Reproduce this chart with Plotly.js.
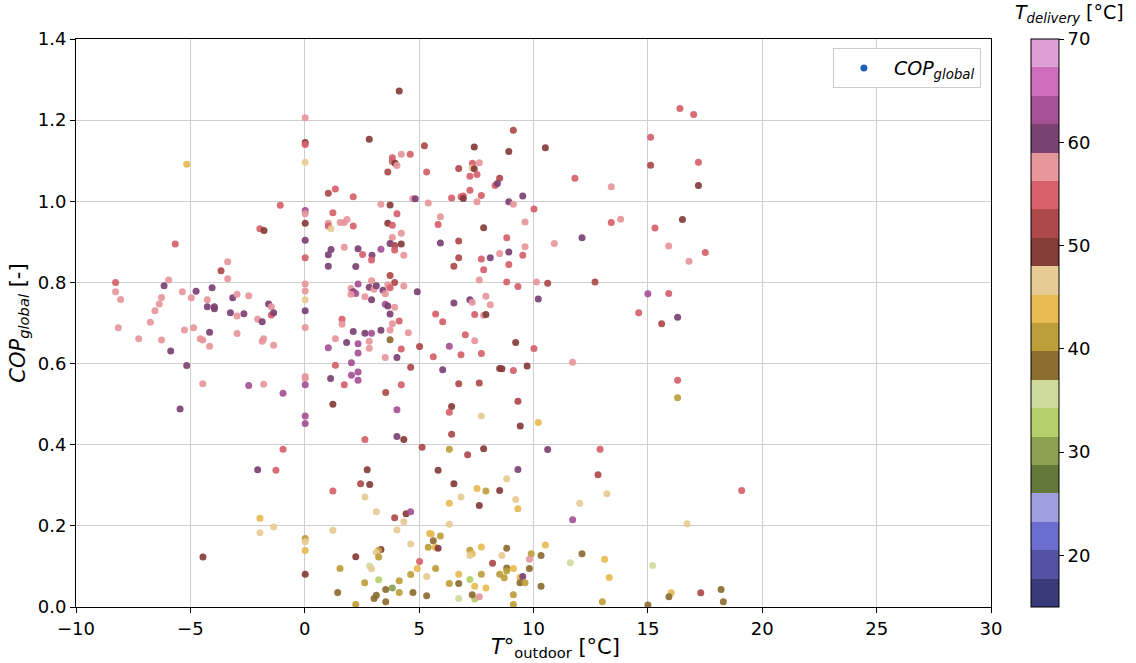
<!DOCTYPE html>
<html>
<head>
<meta charset="utf-8">
<script src="https://cdn.plot.ly/plotly-3.0.1.min.js"></script>
<style>html,body{margin:0;padding:0;background:#fff;}#chart{width:1136px;height:663px;}</style>
</head>
<body>
<div id="chart"></div>
<script>
// Outdoor temperature [°C]
const tOutdoor = [
-5.16,-5.66,-1.96,-1.78,
4.13,0.02,2.82,5.23,0.02,0.02,0.02,3.83,4.22,4.61,3.83,3.95,4.03,3.63,5.33,1.03,1.34,2.12,-1.07,0.02,0.02,0.02,0.02,0.02,3.33,3.73,4.03,4.72,4.83,5.40,1.23,1.03,1.03,1.55,1.73,1.85,2.12,1.15,3.63,3.83,4.22,3.83,3.73,3.93,4.22,3.93,4.33,1.73,1.15,1.03,2.33,2.53,2.94,3.33,2.92,
9.12,7.41,8.92,10.52,7.33,7.63,6.73,7.32,7.41,7.22,7.53,8.52,8.32,8.42,7.22,6.42,6.83,6.93,6.93,7.72,7.53,8.92,9.12,9.53,10.02,11.81,5.93,5.83,7.82,9.63,5.93,6.73,8.83,9.63,10.91,12.12,8.92,8.52,9.53,6.73,7.72,8.11,
16.40,17.00,15.12,15.12,17.21,17.21,13.40,13.40,13.81,16.51,15.31,15.91,17.51,16.80,
-3.37,-3.66,-3.37,-8.27,-8.27,-8.05,-8.15,-7.26,-6.75,-6.55,-6.36,-6.26,-5.95,-6.15,-6.26,-5.86,-5.35,-4.96,-4.75,-4.05,-4.26,-4.26,-3.95,-3.95,-3.15,-2.96,-2.45,-3.25,-2.66,-2.96,-2.06,-1.86,-5.26,-4.86,-4.16,-4.57,-4.46,-4.16,-2.96,-1.86,-1.80,-5.16,-4.46,-2.45,-1.80,-5.45,
1.03,2.23,3.73,3.93,4.33,4.92,0.02,0.02,0.02,0.02,0.02,0.02,0.02,0.02,0.02,0.02,-1.58,-1.46,-1.46,-1.36,-1.36,-0.95,2.02,2.12,2.23,2.02,2.33,2.63,2.92,2.82,3.03,3.13,2.92,3.42,3.52,3.63,3.73,3.52,3.63,3.93,3.73,4.13,3.83,3.73,3.33,4.53,1.63,1.63,2.12,2.63,2.92,1.34,1.83,2.33,2.82,2.82,1.03,2.33,3.73,4.22,5.02,3.52,4.03,2.04,1.34,2.33,2.04,1.13,2.33,1.73,4.63,4.22,3.54,1.23,4.03,4.03,4.33,2.63,
6.52,8.92,7.82,7.63,8.83,9.32,10.13,10.62,12.69,6.52,7.22,7.32,7.92,8.11,10.21,5.72,6.03,7.43,7.82,7.92,7.02,7.43,9.22,10.02,6.32,5.62,6.83,7.72,11.71,6.03,8.52,8.62,9.12,9.72,6.73,7.63,9.32,6.42,6.32,7.72,9.42,10.21,6.42,
15.00,15.91,14.60,16.30,15.60,16.30,16.30,
-2.06,-1.96,-1.96,-4.45,
-0.95,-1.26,5.13,2.73,2.44,2.84,1.23,2.63,3.13,3.93,4.43,4.63,4.33,4.03,-1.36,1.23,0.02,0.02,0.02,0.02,4.63,5.40,5.46,3.33,3.23,3.13,3.23,2.23,2.84,2.92,1.54,5.02,4.92,5.33,4.63,3.23,2.62,4.13,3.83,3.54,1.44,3.13,3.03,3.54,4.13,4.73,5.33,2.23,
6.32,7.12,7.82,10.62,5.83,9.32,6.52,8.83,7.53,7.92,8.52,6.83,6.32,7.63,9.22,9.32,12.02,11.71,6.32,5.53,5.93,5.62,5.70,5.83,7.22,7.32,7.22,7.72,8.83,8.62,9.90,10.52,10.33,12.12,9.82,8.21,11.61,5.72,8.83,8.83,9.12,9.82,6.73,7.72,8.52,8.72,9.41,9.53,7.22,6.32,6.73,7.43,7.92,9.41,9.63,10.33,6.73,7.43,7.32,7.63,9.12,9.12,
12.91,12.82,13.21,19.10,16.71,13.11,13.31,15.21,16.02,15.92,17.31,18.20,18.30,13.01,15.00
];

// Global COP [-]
const copGlobal = [
1.091,0.895,0.932,0.928,
1.272,1.206,1.153,1.137,1.145,1.140,1.096,1.107,1.116,1.116,1.098,1.094,1.088,1.072,1.072,1.020,1.030,1.011,0.990,0.977,0.969,0.946,0.904,0.861,0.993,0.991,0.969,1.006,1.006,0.996,0.972,0.946,0.939,0.948,0.948,0.955,0.939,0.932,0.946,0.941,0.921,0.911,0.896,0.891,0.895,0.880,0.867,0.887,0.881,0.868,0.883,0.869,0.867,0.882,0.855,
1.175,1.134,1.123,1.132,1.094,1.095,1.081,1.082,1.080,1.062,1.066,1.057,1.039,1.044,1.027,1.008,1.011,1.013,1.007,1.014,0.999,0.999,0.993,1.013,0.981,1.057,0.962,0.943,0.935,0.949,0.897,0.902,0.910,0.888,0.896,0.910,0.875,0.871,0.867,0.861,0.858,0.861,
1.229,1.214,1.158,1.089,1.096,1.039,1.036,0.948,0.956,0.955,0.934,0.890,0.874,0.852,
0.851,0.829,0.809,0.800,0.777,0.758,0.688,0.661,0.702,0.730,0.747,0.763,0.806,0.792,0.658,0.631,0.777,0.762,0.778,0.787,0.757,0.740,0.740,0.735,0.762,0.771,0.767,0.725,0.723,0.717,0.709,0.703,0.683,0.688,0.677,0.661,0.658,0.643,0.674,0.655,0.661,0.595,0.550,0.546,0.549,0.488,
0.840,0.839,0.817,0.800,0.791,0.777,0.796,0.779,0.757,0.730,0.689,0.568,0.564,0.548,0.471,0.452,0.747,0.740,0.720,0.725,0.645,0.527,0.785,0.777,0.773,0.771,0.796,0.765,0.804,0.788,0.783,0.792,0.757,0.781,0.772,0.794,0.787,0.746,0.742,0.739,0.722,0.705,0.698,0.683,0.682,0.676,0.709,0.697,0.679,0.675,0.675,0.661,0.652,0.649,0.655,0.638,0.639,0.626,0.659,0.636,0.642,0.615,0.615,0.602,0.596,0.579,0.571,0.563,0.559,0.548,0.591,0.548,0.529,0.500,0.486,0.420,0.413,0.413,
0.840,0.844,0.831,0.806,0.801,0.790,0.801,0.798,0.801,0.749,0.757,0.751,0.766,0.745,0.759,0.722,0.703,0.721,0.719,0.721,0.671,0.656,0.652,0.637,0.643,0.617,0.622,0.625,0.603,0.585,0.588,0.587,0.583,0.594,0.550,0.552,0.507,0.494,0.480,0.471,0.446,0.455,0.426,
0.772,0.773,0.725,0.714,0.698,0.559,0.516,
0.338,0.219,0.183,0.123,
0.389,0.337,0.394,0.338,0.304,0.302,0.286,0.271,0.235,0.220,0.230,0.235,0.210,0.190,0.197,0.189,0.169,0.161,0.139,0.081,0.155,0.147,0.181,0.142,0.139,0.135,0.123,0.124,0.101,0.094,0.095,0.112,0.095,0.075,0.080,0.067,0.060,0.065,0.047,0.043,0.036,0.029,0.021,0.013,0.036,0.036,0.028,0.006,
0.389,0.375,0.390,0.388,0.337,0.339,0.304,0.316,0.292,0.286,0.287,0.271,0.256,0.250,0.265,0.242,0.256,0.215,0.204,0.180,0.175,0.163,0.147,0.145,0.140,0.131,0.127,0.148,0.145,0.127,0.131,0.153,0.127,0.131,0.118,0.108,0.109,0.095,0.096,0.089,0.095,0.095,0.081,0.081,0.081,0.072,0.073,0.075,0.068,0.058,0.058,0.051,0.047,0.060,0.060,0.051,0.021,0.020,0.030,0.025,0.030,0.006,
0.389,0.326,0.279,0.287,0.205,0.118,0.073,0.102,0.035,0.025,0.035,0.043,0.013,0.013,0.005
];

// Delivery temperature [°C]
const tDelivery = [
44,55,55,50,
50,57.5,50,52,50,55,46.5,55,57.5,55,55,50,57.5,52,55,52,55,55,55,63,57.5,50,60,55,57.5,50,55,57.5,60,57.5,55,57.5,55,57.5,57.5,57.5,55,46.5,50,55,57.5,57.5,60,52,50,55,57.5,57.5,60,60,60,55,60,63,55,
52,50,50,50,55,57.5,52,46.5,50,55,55,52,55,60,55,55,55,55,50,55,57.5,60,57.5,60,55,55,57.5,55,50,57.5,60,52,55,57.5,57.5,60,60,57.5,55,52,55,60,
55,55,55,52,55,50,57.5,55,57.5,50,55,57.5,55,57.5,
57.5,52,57.5,55,57.5,57.5,57.5,57.5,57.5,57.5,57.5,57.5,57.5,60,57.5,60,57.5,57.5,60,60,57.5,60,60,60,60,57.5,57.5,60,60,57.5,57.5,60,57.5,57.5,60,57.5,57.5,57.5,57.5,57.5,57.5,60,57.5,63,57.5,60,
60,60,52,52,57.5,60,57.5,57.5,46.5,60,57.5,57.5,57.5,63,63,63,60,57.5,55,60,57.5,63,57.5,60,63,57.5,63,57.5,57.5,60,57.5,60,60,60,57.5,57.5,55,63,60,57.5,60,55,57.5,57.5,60,57.5,55,57.5,60,60,63,57.5,60,63,57.5,57.5,63,63,38,55,52,57.5,60,63,55,63,63,60,63,55,52,55,52,50,63,60,50,55,
52,55,55,57.5,55,55,57.5,52,52,60,60,57.5,57.5,57.5,60,55,55,55,57.5,50,55,57.5,50,55,63,55,55,55,57.5,60,50,50,55,50,52,52,52,50,55,46.5,50,44,52,
63,55,55,60,52,55,41,
60,44,46.5,50,
55,55,52,50,52,50,55,46.5,46.5,52,50,63,46.5,46.5,46.5,46.5,41,46.5,44,50,46.5,41,44,50,41,46.5,41,50,35,46.5,41,55,44,46.5,41,33,41,41,30,38,38,38,38,38,41,38,38,41,
41,52,50,60,50,60,50,46.5,44,41,50,46.5,44,50,46.5,44,46.5,63,46.5,44,41,38,44,50,41,44,46.5,44,38,46.5,41,44,38,38,57.5,52,35,41,38,41,44,38,44,41,41,41,44,60,33,41,38,44,44,38,41,38,35,33,38,57.5,41,41,
55,52,46.5,55,46.5,44,44,35,44,38,52,38,38,41,38
];

// tab20b palette (20 discrete bands over 15–70 °C)
const tab20b = ['#393b79','#5254a3','#6b6ecf','#9c9ede','#637939','#8ca252','#b5cf6b','#cedb9c',
  '#8c6d31','#bd9e39','#e7ba52','#e7cb94','#843c39','#ad494a','#d6616b','#e7969c',
  '#7b4173','#a55194','#ce6dbd','#de9ed6'];
const colorTicks = [20,30,40,50,60,70];

const cs = [];
tab20b.forEach((c,i)=>{ cs.push([i/20,c]); cs.push([(i+1)/20,c]); });

const font = 'DejaVu Sans, sans-serif';

const main = {
  type:'scatter', mode:'markers',
  x:tOutdoor, y:copGlobal,
  showlegend:false,
  marker:{
    size:7, opacity:0.92,
    color:tDelivery, colorscale:cs, cmin:15, cmax:70,
    line:{width:0},
    colorbar:{
      x:1.0437, xanchor:'left', xpad:0, ypad:0,
      y:0.5, yanchor:'middle', len:1, lenmode:'fraction',
      thickness:28, outlinewidth:1, outlinecolor:'#000',
      tickmode:'array', tickvals:colorTicks, ticktext:colorTicks.map(String),
      ticks:'outside', ticklen:5, tickcolor:'#000',
      tickfont:{family:font, size:18, color:'#000'}
    }
  }
};

const legendTrace = {
  type:'scatter', mode:'markers', x:[null], y:[null],
  name:'<i>COP<sub>global</sub></i>',
  marker:{size:7, color:'#1f5fb4'}
};

const layout = {
  width:1136, height:663,
  margin:{l:76, r:145, t:39, b:56},
  paper_bgcolor:'#fff', plot_bgcolor:'#fff',
  font:{family:font, size:18, color:'#000'},
  xaxis:{
    range:[-10,30], tickmode:'linear', tick0:-10, dtick:5,
    showgrid:true, gridcolor:'#cfcfcf', gridwidth:1, zeroline:false,
    showline:true, mirror:true, linecolor:'#000', linewidth:1,
    ticks:'outside', ticklen:5, tickcolor:'#000',
    tickfont:{family:font, size:18}
  },
  yaxis:{
    range:[0,1.4], tickmode:'linear', tick0:0, dtick:0.2, tickformat:'.1f',
    showgrid:true, gridcolor:'#cfcfcf', gridwidth:1, zeroline:false,
    showline:true, mirror:true, linecolor:'#000', linewidth:1,
    ticks:'outside', ticklen:5, tickcolor:'#000',
    tickfont:{family:font, size:18},
    title:{text:'<i>COP<sub>global</sub></i> [-]', font:{family:font, size:21}, standoff:6}
  },
  legend:{
    x:0.989, xanchor:'right', y:0.984, yanchor:'top',
    bgcolor:'#fff', bordercolor:'#cccccc', borderwidth:1,
    itemwidth:50,
    font:{family:font, size:19}
  },
  annotations:[{
    xref:'paper', yref:'paper', x:1.086, y:1.045, xanchor:'center', yanchor:'middle',
    showarrow:false, text:'<i>T<sub>delivery</sub></i> [°C]',
    font:{family:font, size:19, color:'#000'}
  },{
    xref:'paper', yref:'paper', x:0.5235, y:-0.072, xanchor:'center', yanchor:'middle',
    showarrow:false, text:'<i>T°</i><sub>outdoor</sub> [°C]',
    font:{family:font, size:21, color:'#000'}
  }]
};

Plotly.newPlot('chart', [main, legendTrace], layout, {displayModeBar:false, responsive:false});
</script>
</body>
</html>
